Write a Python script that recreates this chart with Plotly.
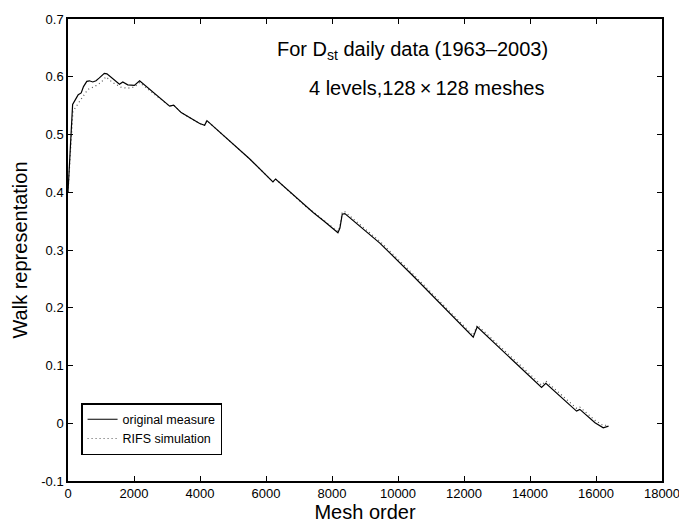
import plotly.graph_objects as go

# Original measure
orig_x = [0, 50, 100, 140, 250, 310, 400, 470, 570, 650, 750, 850, 950, 1100, 1180,
          1360, 1560, 1660, 1810, 2010, 2170, 3080, 3200, 3430, 3690, 3990, 4140, 4210,
          5500, 6210, 6290, 7230, 7280, 7430, 7780, 8180, 8240, 8310, 8390, 9450, 10460,
          12280, 12400, 14350, 14480, 15410, 15510, 15970, 16220, 16380]
orig_y = [0.400, 0.460, 0.510, 0.552, 0.563, 0.569, 0.572, 0.583, 0.592, 0.593, 0.591,
          0.593, 0.598, 0.606, 0.605, 0.596, 0.587, 0.591, 0.586, 0.585, 0.593, 0.549,
          0.551, 0.538, 0.529, 0.519, 0.516, 0.524, 0.458, 0.418, 0.423, 0.374, 0.372,
          0.365, 0.349, 0.330, 0.338, 0.362, 0.363, 0.312, 0.255, 0.149, 0.167, 0.062,
          0.069, 0.021, 0.024, 0.001, -0.008, -0.005]

# RIFS simulation
sim_x = [0, 100, 150, 300, 450, 600, 800, 1000, 1150, 1350, 1600, 1800, 2000, 2170,
         3080, 3200, 3430, 3690, 3990, 4140, 4210, 5500, 6210, 6290, 7230, 7430, 7780,
         8180, 8240, 8310, 8390, 9450, 10460, 12280, 12400, 14350, 14480, 15410, 15510,
         15970, 16220, 16380]
sim_y = [0.400, 0.500, 0.540, 0.553, 0.565, 0.578, 0.583, 0.590, 0.600, 0.590, 0.582,
         0.580, 0.582, 0.590, 0.549, 0.551, 0.538, 0.529, 0.519, 0.516, 0.524, 0.458,
         0.418, 0.423, 0.374, 0.366, 0.350, 0.332, 0.340, 0.366, 0.366, 0.315, 0.258,
         0.152, 0.170, 0.066, 0.073, 0.026, 0.028, 0.005, -0.004, -0.003]

y_ticks = [-0.1, 0, 0.1, 0.2, 0.3, 0.4, 0.5, 0.6, 0.7]
y_tick_text = ["-0.1", "0", "0.1", "0.2", "0.3", "0.4", "0.5", "0.6", "0.7"]
x_ticks = [0, 2000, 4000, 6000, 8000, 10000, 12000, 14000, 16000, 18000]
x_tick_text = ["0", "2000", "4000", "6000", "8000", "10000", "12000", "14000",
               "16000", "18000"]

FONT = "Liberation Sans, Arial, Helvetica, sans-serif"

fig = go.Figure()
fig.add_trace(go.Scatter(x=sim_x, y=sim_y, mode="lines", name="RIFS simulation",
                         line=dict(color="#555555", width=1.2, dash="1px,3px"),
                         legendrank=2))
fig.add_trace(go.Scatter(x=orig_x, y=orig_y, mode="lines", name="original measure",
                         line=dict(color="black", width=1.2), legendrank=1))

fig.add_annotation(x=10449, y=0.646, xref="x", yref="y", showarrow=False,
                   text="For D<sub>st</sub> daily data (1963\u20132003)",
                   font=dict(family=FONT, size=20, color="black"))
fig.add_annotation(x=10873, y=0.581, xref="x", yref="y", showarrow=False,
                   text="4 levels,128\u2009\u00d7\u2009128 meshes",
                   font=dict(family=FONT, size=20, color="black"))

fig.update_layout(
    width=679, height=531,
    margin=dict(l=68, r=17, t=13, b=50),
    plot_bgcolor="white", paper_bgcolor="white",
    font=dict(family=FONT, color="black"),
    showlegend=True,
    legend=dict(x=0.022, y=0.056, xanchor="left", yanchor="bottom",
                bgcolor="white", bordercolor="black", borderwidth=1.5,
                font=dict(family=FONT, size=12.5, color="black"),
                itemwidth=30, tracegroupgap=0),
)
fig.update_xaxes(range=[0, 18000], tickvals=x_ticks, ticktext=x_tick_text,
                 ticks="inside", ticklen=5, ticklabeloverflow="allow",
                 tickcolor="black", showline=True, linecolor="black", linewidth=1.5,
                 mirror="ticks", showgrid=False, zeroline=False, automargin=False,
                 tickfont=dict(family=FONT, size=13, color="black"),
                 title=dict(text="Mesh order", font=dict(family=FONT, size=20), standoff=5))
fig.update_yaxes(range=[-0.1, 0.7], tickvals=y_ticks, ticktext=y_tick_text,
                 ticks="inside", ticklen=5, tickcolor="black", showline=True,
                 linecolor="black", linewidth=1.5, mirror="ticks", showgrid=False,
                 zeroline=False, tickfont=dict(family=FONT, size=13, color="black"),
                 title=dict(text="Walk representation", font=dict(family=FONT, size=20),
                            standoff=8))

fig.write_html("out.html")
